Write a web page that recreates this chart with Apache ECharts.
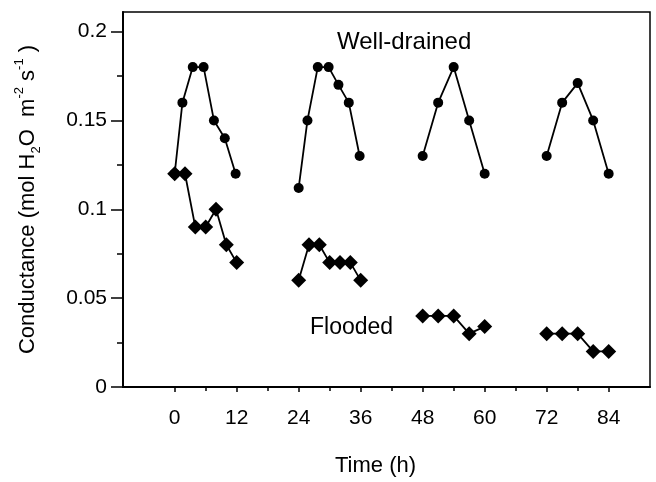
<!DOCTYPE html>
<html>
<head>
<meta charset="utf-8">
<script src="https://cdn.jsdelivr.net/npm/echarts@6/dist/echarts.min.js"></script>
<style>
html,body{margin:0;padding:0;background:#fff;}
#chart{width:656px;height:482px;}
</style>
</head>
<body>
<div id="chart"></div>
<script>
// ---- data ----
const wellDrainedTime = [
  [0, 1.5, 3.5, 5.6, 7.6, 9.7, 11.8],
  [24, 25.7, 27.7, 29.8, 31.7, 33.7, 35.8],
  [48, 51, 54, 57, 60],
  [72, 75, 78, 81, 84]
];
const wellDrainedValue = [
  [0.12, 0.16, 0.18, 0.18, 0.15, 0.14, 0.12],
  [0.112, 0.15, 0.18, 0.18, 0.17, 0.16, 0.13],
  [0.13, 0.16, 0.18, 0.15, 0.12],
  [0.13, 0.16, 0.171, 0.15, 0.12]
];
const floodedTime = [
  [0, 2, 4, 6, 8, 10, 12],
  [24, 26, 28, 30, 32, 34, 36],
  [48, 51, 54, 57, 60],
  [72, 75, 78, 81, 84]
];
const floodedValue = [
  [0.12, 0.12, 0.09, 0.09, 0.10, 0.08, 0.07],
  [0.06, 0.08, 0.08, 0.07, 0.07, 0.07, 0.06],
  [0.04, 0.04, 0.04, 0.03, 0.034],
  [0.03, 0.03, 0.03, 0.02, 0.02]
];
const xTicks = [0, 12, 24, 36, 48, 60, 72, 84];
const xMinorTicks = [6, 18, 30, 42, 54, 66, 78];
const yTicks = [0, 0.05, 0.1, 0.15, 0.2];
const yMinorTicks = [0.025, 0.075, 0.125, 0.175];

const FONT = '"Liberation Sans", Arial, Helvetica, sans-serif';

function pairs(ts, vs) { return ts.map((t, i) => [t, vs[i]]); }

const series = [];
wellDrainedTime.forEach((ts, d) => {
  series.push({
    name: 'Well-drained', type: 'line', xAxisIndex: 0, yAxisIndex: 0,
    data: pairs(ts, wellDrainedValue[d]),
    symbol: 'circle', symbolSize: 10,
    itemStyle: { color: '#000' },
    lineStyle: { color: '#000', width: 1.8 },
    z: 2, animation: false
  });
});
floodedTime.forEach((ts, d) => {
  series.push({
    name: 'Flooded', type: 'line', xAxisIndex: 0, yAxisIndex: 0,
    data: pairs(ts, floodedValue[d]),
    symbol: 'diamond', symbolSize: 15,
    itemStyle: { color: '#000' },
    lineStyle: { color: '#000', width: 1.8 },
    z: 3, animation: false
  });
});

const chart = echarts.init(document.getElementById('chart'), null, { renderer: 'canvas' });
chart.setOption({
  backgroundColor: '#fff',
  animation: false,
  grid: {
    left: 123, right: 6, top: 12, bottom: 95,
    show: true, borderColor: '#000', borderWidth: 1.5, backgroundColor: 'transparent'
  },
  xAxis: [{
    type: 'value', min: -10, max: 92, position: 'bottom',
    axisLine: { show: true, onZero: false, lineStyle: { color: '#000', width: 2 } },
    axisTick: { show: true, customValues: xTicks, length: 5, lineStyle: { color: '#000', width: 1.5 } },
    axisLabel: { show: true, customValues: xTicks, margin: 21, color: '#000', fontSize: 21, fontFamily: FONT },
    splitLine: { show: false },
    name: 'Time (h)', nameLocation: 'middle', nameGap: 68,
    nameTextStyle: { color: '#000', fontSize: 22, fontFamily: FONT, padding: [0, 22, 0, 0] }
  }, {
    type: 'value', min: -10, max: 92, position: 'bottom', gridIndex: 0,
    axisLine: { show: false, onZero: false },
    axisTick: { show: true, customValues: xMinorTicks, length: 4, lineStyle: { color: '#000', width: 1.5 } },
    axisLabel: { show: false },
    splitLine: { show: false }
  }],
  yAxis: [{
    type: 'value', min: 0, max: 0.211, position: 'left',
    axisLine: { show: true, onZero: false, lineStyle: { color: '#000', width: 2 } },
    axisTick: { show: true, customValues: yTicks, length: 12, lineStyle: { color: '#000', width: 1.5 } },
    axisLabel: { show: true, customValues: yTicks, margin: 16, color: '#000', fontSize: 21, fontFamily: FONT },
    splitLine: { show: false },
    name: 'Conductance (mol H{sub|2}O  m{sup|-2} s{sup|-1} )',
    nameLocation: 'middle', nameGap: 80, nameRotate: 90,
    nameTextStyle: {
      color: '#000', fontSize: 22, fontFamily: FONT, lineHeight: 30,
      rich: {
        sub: { fontSize: 13, fontFamily: FONT, color: '#000', verticalAlign: 'bottom', lineHeight: 14 },
        sup: { fontSize: 13, fontFamily: FONT, color: '#000', verticalAlign: 'top', lineHeight: 14 }
      }
    }
  }, {
    type: 'value', min: 0, max: 0.211, position: 'left', gridIndex: 0,
    axisLine: { show: false, onZero: false },
    axisTick: { show: true, customValues: yMinorTicks, length: 6, lineStyle: { color: '#000', width: 1.5 } },
    axisLabel: { show: false },
    splitLine: { show: false }
  }],
  graphic: [
    { type: 'text', left: 337, top: 30, style: { text: 'Well-drained', fontSize: 24, fontFamily: FONT, fill: '#000' } },
    { type: 'text', left: 310, top: 316, style: { text: 'Flooded', fontSize: 23, fontFamily: FONT, fill: '#000' } }
  ],
  series: series
});
</script>
</body>
</html>
